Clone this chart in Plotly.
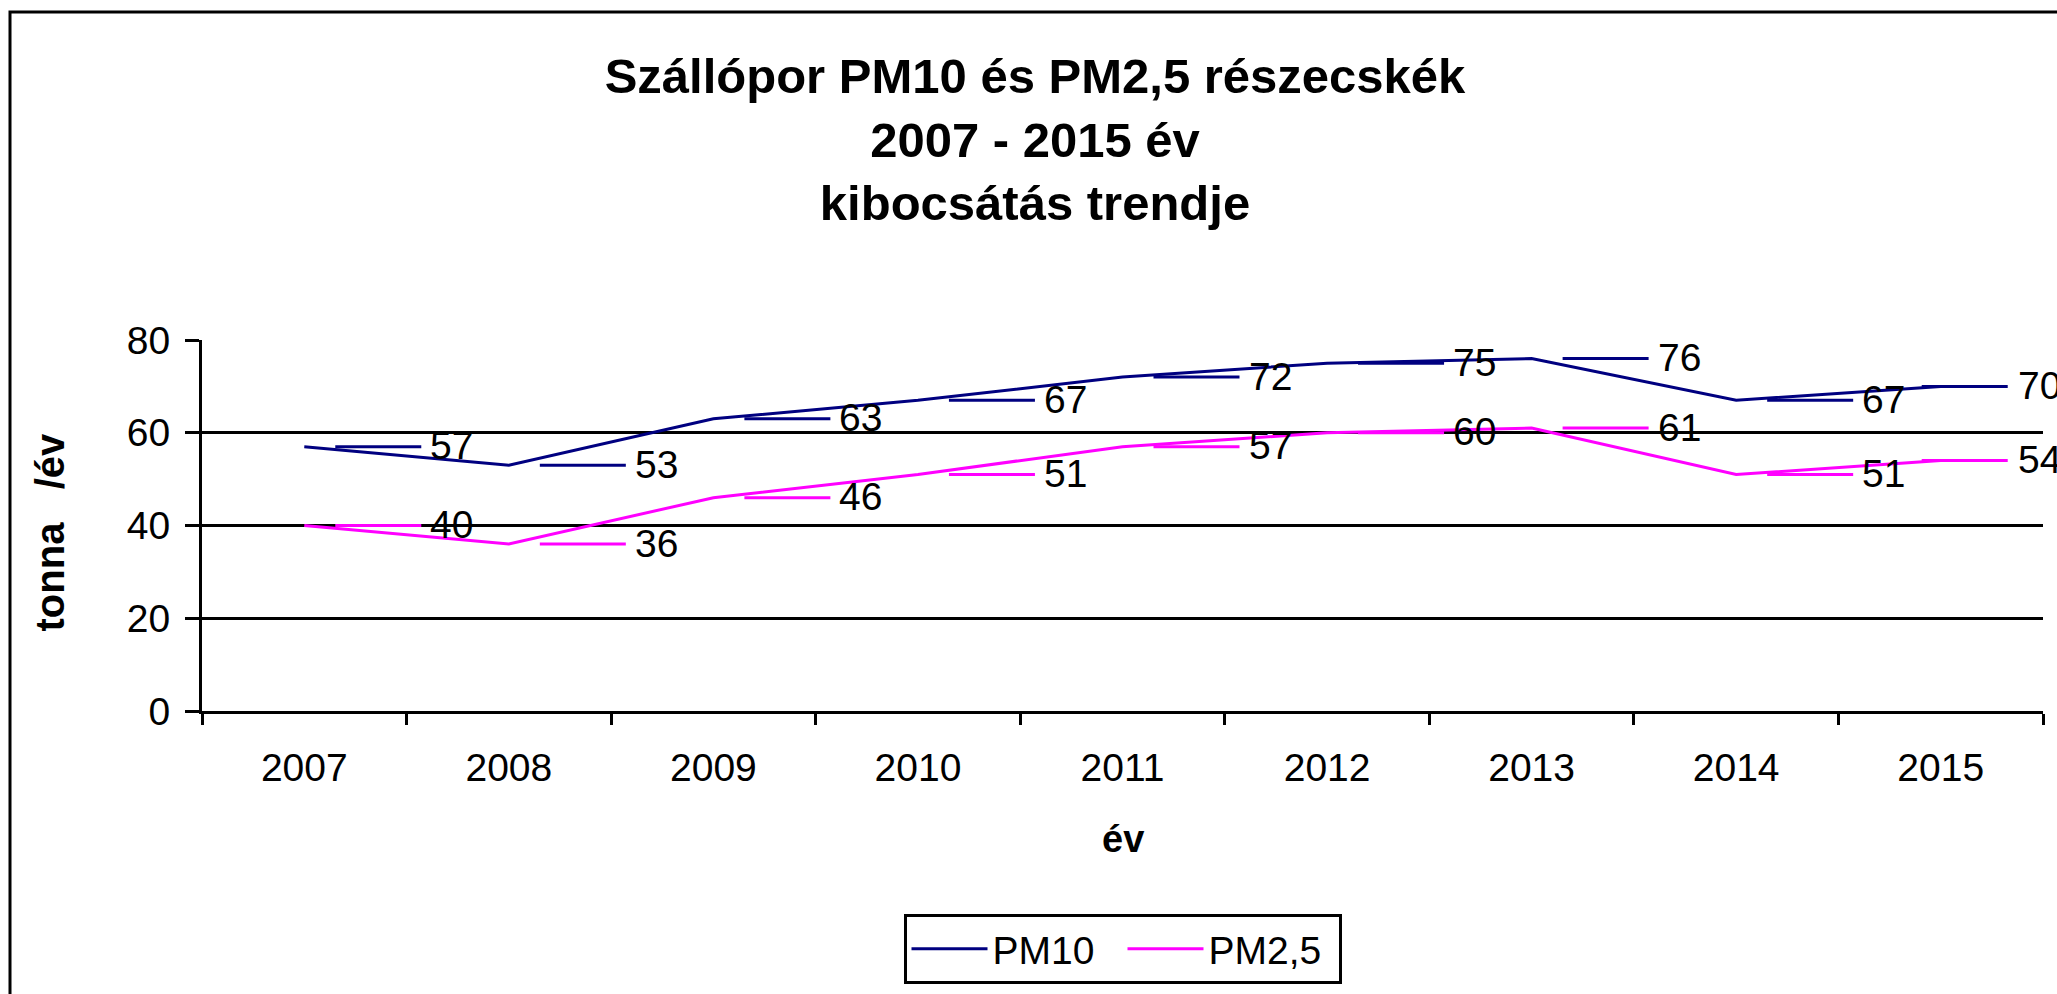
import plotly.graph_objects as go

# Szállópor kibocsátás, tonna/év
years = ["2007", "2008", "2009", "2010", "2011", "2012", "2013", "2014", "2015"]
pm10 = [57, 53, 63, 67, 72, 75, 76, 67, 70]
pm25 = [40, 36, 46, 51, 57, 60, 61, 51, 54]

series = [("PM10", pm10, "#000080"), ("PM2,5", pm25, "#FF00FF")]

FONT = "Liberation Sans, Arial, sans-serif"
W, H = 2057, 994
L, R, T, B = 202, 14, 340, 282
pw, ph = W - L - R, H - T - B


# pixel -> paper coordinates, for the decorations outside the plot area
def px(x):
    return (x - L) / pw


def py(y):
    return (H - B - y) / ph


fig = go.Figure()
shapes = []
annotations = []

for name, vals, color in series:
    fig.add_scatter(x=years, y=vals, name=name, mode="lines",
                    line=dict(color=color, width=3))
    # Excel style data labels: legend key + value
    for i, v in enumerate(vals):
        if i == len(vals) - 1:
            k0, k1, tx = -19, 67, 75
        else:
            k0, k1, tx = 31, 117, 124
        shapes.append(dict(type="line", xref="x", yref="y", xsizemode="pixel",
                           xanchor=i, x0=k0, x1=k1, y0=v, y1=v,
                           line=dict(color=color, width=3)))
        annotations.append(dict(x=i, y=v, xref="x", yref="y", text=str(v),
                                showarrow=False, xanchor="left", yanchor="middle",
                                xshift=tx, yshift=1,
                                font=dict(family=FONT, size=39, color="black")))

# outer chart frame
shapes.append(dict(type="rect", xref="paper", yref="paper",
                   x0=px(10), x1=px(2080), y0=py(11), y1=py(1020),
                   line=dict(color="black", width=3), layer="below"))

annotations.append(dict(text="tonna\u00a0\u00a0\u00a0/év", textangle=-90,
                        xref="paper", yref="paper", x=px(50), y=py(533),
                        showarrow=False, xanchor="center", yanchor="middle",
                        font=dict(family=FONT, size=40, color="black", weight="bold")))
annotations.append(dict(text="év", xref="paper", yref="paper", x=px(1123), y=py(840),
                        showarrow=False, xanchor="center", yanchor="middle",
                        font=dict(family=FONT, size=38, color="black", weight="bold")))

fig.update_layout(
    width=W, height=H,
    margin=dict(l=L, r=R, t=T, b=B),
    plot_bgcolor="white", paper_bgcolor="white",
    title=dict(text="Szállópor PM10 és PM2,5 részecskék<br>2007 - 2015 év<br>kibocsátás trendje",
               xref="container", yref="container", x=1035 / W, y=1 - 93 / H,
               xanchor="center", yanchor="middle",
               font=dict(family=FONT, size=49, color="black", weight="bold")),
    xaxis=dict(type="category", range=[-0.5, 8.5], tickson="boundaries",
               ticks="outside", ticklen=11, tickwidth=3, tickcolor="black",
               showline=True, linecolor="black", linewidth=3, showgrid=False,
               ticklabelstandoff=20,
               tickfont=dict(family=FONT, size=39, color="black")),
    yaxis=dict(range=[0, 80], dtick=20, showgrid=True, gridcolor="black", gridwidth=3,
               ticks="outside", ticklen=14, tickwidth=3, tickcolor="black",
               showline=True, linecolor="black", linewidth=3, zeroline=False,
               ticklabelstandoff=7,
               tickfont=dict(family=FONT, size=39, color="black")),
    legend=dict(orientation="h", x=0.5, xanchor="center", y=py(914), yanchor="top",
                bordercolor="black", borderwidth=3, itemwidth=76, entrywidth=125,
                font=dict(family=FONT, size=39, color="black")),
    shapes=shapes,
    annotations=annotations,
)

fig.write_html("out.html", config={"displayModeBar": False},
               post_script="document.body.style.margin='0';")
